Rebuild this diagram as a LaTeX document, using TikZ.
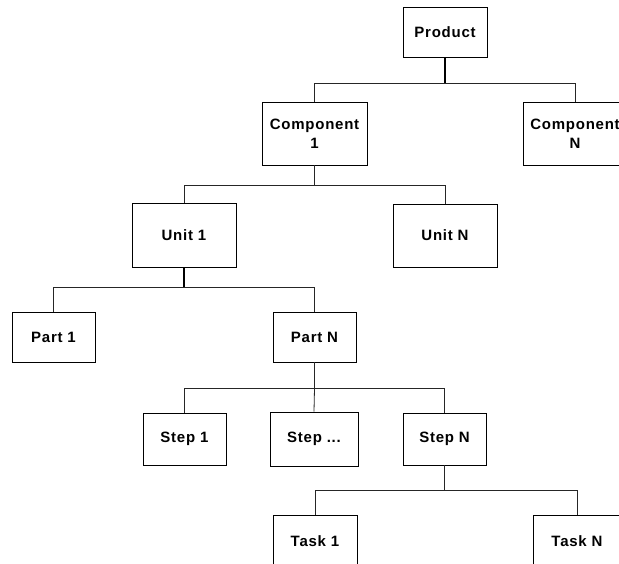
\documentclass[tikz,border=0pt]{standalone}
\usepackage{fontspec}
\setmainfont{Liberation Sans}[LetterSpace=5]
\begin{document}
\begin{tikzpicture}[x=1pt,y=-1pt,
  box/.style={draw=black, line width=0.9pt, inner sep=0pt, align=center,
    font=\fontsize{15}{19}\selectfont\bfseries},
  link/.style={draw=black!85, line width=0.8pt},
  stem/.style={draw=black, line width=1.6pt}]
\useasboundingbox (0,0) rectangle (619,563);
\clip (0,0) rectangle (619,563);

% hierarchy boxes
\node[box, minimum width=84pt, minimum height=50pt]  (prod)  at (445,32)    {Product};
\node[box, minimum width=105pt, minimum height=63pt] (comp1) at (314.5,133.5) {Component\\1};
\node[box, minimum width=104pt, minimum height=63pt] (compN) at (575,133.5) {Component\\N};
\node[box, minimum width=104pt, minimum height=64pt] (unit1) at (184,235)   {Unit 1};
\node[box, minimum width=104pt, minimum height=63pt] (unitN) at (445,235.5) {Unit N};
\node[box, minimum width=83pt, minimum height=50pt]  (part1) at (53.5,337)  {Part 1};
\node[box, minimum width=83pt, minimum height=50pt]  (partN) at (314.5,337) {Part N};
\node[box, minimum width=83pt, minimum height=52pt]  (step1) at (184.5,439) {Step 1};
\node[box, minimum width=88pt, minimum height=54pt]  (stepX) at (314,439)   {Step ...};
\node[box, minimum width=83pt, minimum height=52pt]  (stepN) at (444.5,439) {Step N};
\node[box, minimum width=84pt, minimum height=52pt]  (task1) at (315,541)   {Task 1};
\node[box, minimum width=88pt, minimum height=52pt]  (taskN) at (577,541)   {Task N};

% product -> components
\draw[stem] (prod.south) -- ++(0,26) coordinate (j1);
\draw[link] (comp1.north) |- (j1) -| (compN.north);

% component 1 -> units
\draw[link] (comp1.south) -- ++(0,20) coordinate (j2);
\draw[link] (unit1.north) |- (j2) -| (unitN.north);

% unit 1 -> parts
\draw[stem] (unit1.south) -- ++(0,20) coordinate (j3);
\draw[link] (part1.north) |- (j3) -| (partN.north);

% part N -> steps
\draw[link] (partN.south) -- ++(0,26) coordinate (j4);
\draw[link] (step1.north) |- (j4) -| (stepN.north);
\draw[link] (j4) -- (stepX.north);

% step N -> tasks
\draw[link] (stepN.south) -- ++(0,25) coordinate (j5);
\draw[link] (task1.north) |- (j5) -| (taskN.north);
\end{tikzpicture}
\end{document}
